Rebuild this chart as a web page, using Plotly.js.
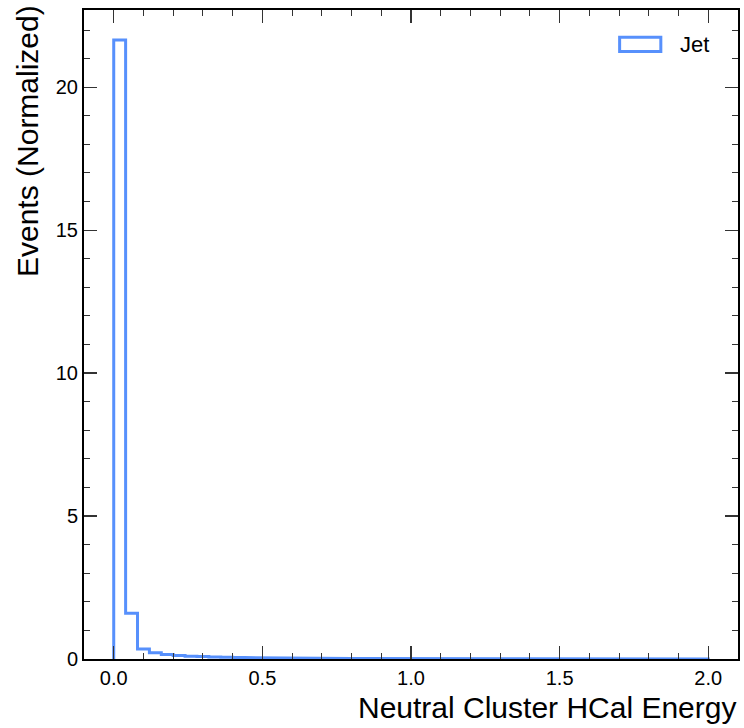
<!DOCTYPE html>
<html>
<head>
<meta charset="utf-8">
<script src="https://cdn.plot.ly/plotly-3.0.1.min.js"></script>
<style>html,body{margin:0;padding:0;background:#fff;}#chart{width:744px;height:728px;}</style>
</head>
<body>
<div id="chart"></div>
<script>
// Histogram bin left edges (width 0.04) and normalized counts
const binWidth = 0.04;
const binEdges = Array.from({length: 51}, (_, i) => +(i * binWidth).toFixed(2));
const jetCounts = [
  21.65, 1.60, 0.35, 0.22, 0.16, 0.12, 0.10, 0.085, 0.07, 0.06,
  0.05, 0.045, 0.035, 0.032, 0.03, 0.028, 0.025, 0.022, 0.02, 0.02,
  0.018, 0.015, 0.014, 0.013, 0.012, 0.011, 0.01, 0.01, 0.009, 0.009,
  0.008, 0.008, 0.007, 0.007, 0.007, 0.006, 0.006, 0.006, 0.005, 0.005,
  0.005, 0.005, 0.004, 0.004, 0.004, 0.004, 0.004, 0.003, 0.003, 0.003
];
const seriesName = "Jet";
const xTickVals = [0.0, 0.5, 1.0, 1.5, 2.0];
const xTickText = ["0.0", "0.5", "1.0", "1.5", "2.0"];
const yTickVals = [0, 5, 10, 15, 20];
const xTitle = "Neutral Cluster HCal Energy";
const yTitle = "Events (Normalized)";

// Build step outline: start at baseline, step through bins, return to baseline
const sx = [binEdges[0]];
const sy = [0];
for (let i = 0; i < jetCounts.length; i++) {
  sx.push(binEdges[i]); sy.push(jetCounts[i]);
  sx.push(binEdges[i + 1]); sy.push(jetCounts[i]);
}
sx.push(binEdges[binEdges.length - 1]); sy.push(0);

const blue = "#5790fc";
const trace = {
  x: sx, y: sy, type: "scatter", mode: "lines",
  line: {color: blue, width: 3, shape: "linear"},
  name: seriesName, showlegend: false, hoverinfo: "skip"
};

const font = "Liberation Sans, Arial, Helvetica, sans-serif";
const axisCommon = {
  showgrid: false, zeroline: false, showline: true, linecolor: "#000", linewidth: 2,
  mirror: "allticks", ticks: "inside", ticklen: 13, tickwidth: 1.3, tickcolor: "#333",
  tickfont: {family: font, size: 20, color: "#000"}
};
const layout = {
  width: 744, height: 728,
  margin: {l: 84, r: 6, t: 10, b: 69, pad: 0},
  paper_bgcolor: "#fff", plot_bgcolor: "#fff",
  showlegend: false,
  xaxis: Object.assign({}, axisCommon, {
    range: [-0.1, 2.1], tickmode: "array", tickvals: xTickVals, ticktext: xTickText,
    minor: {ticks: "inside", ticklen: 6, tickwidth: 1, tickcolor: "#333", dtick: 0.1, tick0: 0}
  }),
  yaxis: Object.assign({}, axisCommon, {
    range: [0, 22.7], tickmode: "array", tickvals: yTickVals,
    minor: {ticks: "inside", ticklen: 6, tickwidth: 1, tickcolor: "#333", dtick: 1, tick0: 0}
  }),
  annotations: [
    {text: xTitle, xref: "paper", yref: "paper", x: 1, y: 0, xanchor: "right", yanchor: "top",
     yshift: -30, showarrow: false, font: {family: font, size: 30, color: "#000"}},
    {text: yTitle, xref: "paper", yref: "paper", x: 0, y: 1.01, xanchor: "right", yanchor: "top",
     xshift: -38, textangle: -90, showarrow: false, font: {family: font, size: 30, color: "#000"}},
    {text: seriesName, xref: "paper", yref: "paper", x: 0.909, y: 0.947, xanchor: "left", yanchor: "middle",
     showarrow: false, font: {family: font, size: 22, color: "#000"}}
  ],
  shapes: [
    {type: "rect", xref: "paper", yref: "paper", x0: 0.819, x1: 0.882, y0: 0.936, y1: 0.958,
     line: {color: blue, width: 3}, fillcolor: "rgba(0,0,0,0)"}
  ]
};
Plotly.newPlot("chart", [trace], layout, {staticPlot: true, displayModeBar: false});
</script>
</body>
</html>
